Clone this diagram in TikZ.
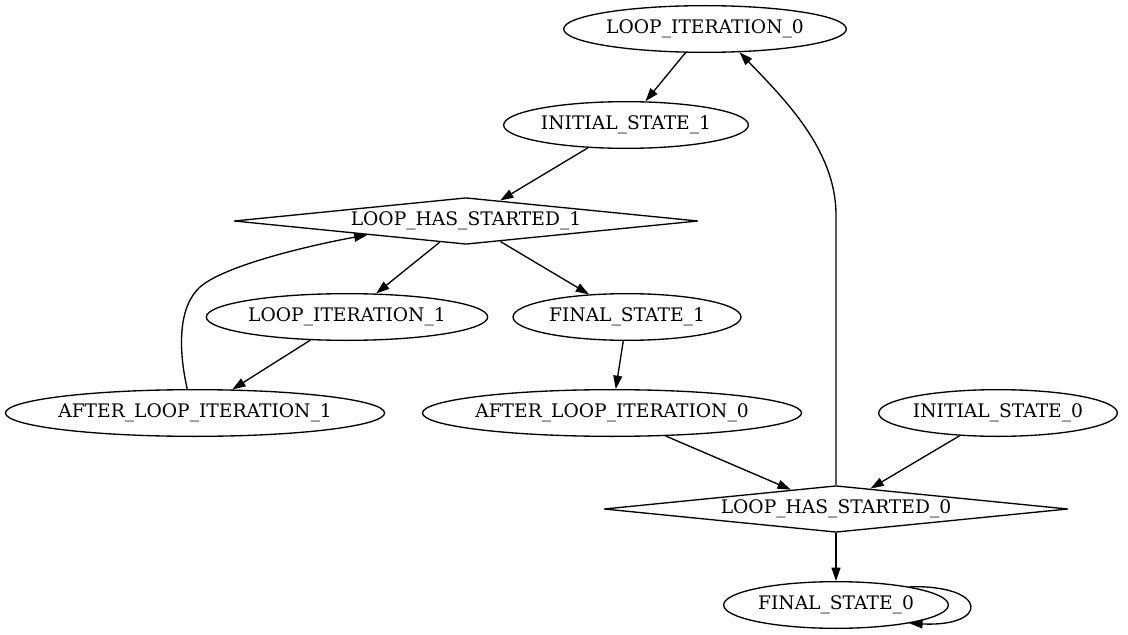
\documentclass[tikz,border=0pt]{standalone}
\usepackage{fontspec}
\setmainfont{DejaVu Serif}
\usetikzlibrary{arrows.meta,shapes.geometric}

\begin{document}
\begin{tikzpicture}[
  x=0.75pt,y=-0.75pt,
  font=\fontsize{14}{17}\selectfont,
  st/.style={draw=black,ellipse,line width=1pt,inner xsep=-2pt,inner ysep=0pt,minimum height=35pt},
  chk/.style={draw=black,diamond,aspect=10,line width=1pt,inner sep=0pt,minimum width=348pt,minimum height=35pt},
  ar/.style={-{Triangle[length=10pt,width=6.7pt]},line width=1pt}]
  \useasboundingbox (0,0) rectangle (1128,635);
  \node[st,minimum width=212pt] (iter0) at (705,29) {LOOP\_ITERATION\_0};
  \node[st,minimum width=183.5pt] (init1) at (626,125) {INITIAL\_STATE\_1};
  \node[chk] (started1) at (466,221) {LOOP\_HAS\_STARTED\_1};
  \node[st,minimum width=211pt] (iter1) at (347,317) {LOOP\_ITERATION\_1};
  \node[st,minimum width=171pt] (final1) at (627,317) {FINAL\_STATE\_1};
  \node[st,minimum width=283pt] (after1) at (195,413) {AFTER\_LOOP\_ITERATION\_1};
  \node[st,minimum width=284pt] (after0) at (612,413) {AFTER\_LOOP\_ITERATION\_0};
  \node[st,minimum width=179pt] (init0) at (998,413) {INITIAL\_STATE\_0};
  \node[chk] (started0) at (836,509) {LOOP\_HAS\_STARTED\_0};
  \node[st,minimum width=168.5pt] (final0) at (836,605) {FINAL\_STATE\_0};
  \draw[ar] (iter0) -- (init1);
  \draw[ar] (init1) -- (started1);
  \draw[ar] (started1) -- (iter1);
  \draw[ar] (started1) -- (final1);
  \draw[ar] (iter1) -- (after1);
  \draw[ar] (after1.108) .. controls +(-9,-40) and +(-22,20) .. (200,287) .. controls +(25,-22) and +(-55,10) .. (started1.188);
  \draw[ar] (final1) -- (after0);
  \draw[ar] (after0) -- (started0);
  \draw[ar] (init0) -- (started0);
  \draw[ar] (started0.north) -- ++(0,-270) .. controls +(0,-65) and +(45,47) .. (iter0.-34);
  \draw[ar] (started0) -- (final0);
  \draw[ar] (final0.14) .. controls +(80,-2) and +(80,4) .. (final0.-14);
\end{tikzpicture}
\end{document}
